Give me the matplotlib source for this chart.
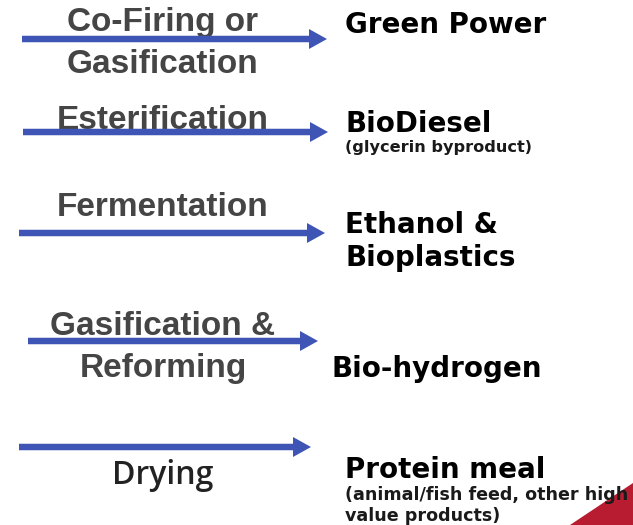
import matplotlib.pyplot as plt
from matplotlib.patches import Polygon

# process steps (grey, over the arrows) and their products (black, right)
process_labels = ["Co-Firing or\nGasification", "Esterification", "Fermentation",
                  "Gasification &\nReforming", "Drying"]
product_labels = ["Green Power", "BioDiesel", "Ethanol &\nBioplastics",
                  "Bio-hydrogen", "Protein meal"]
product_notes = ["", "(glycerin byproduct)", "", "",
                 "(animal/fish feed, other high\nvalue products)"]

# layout, in pixels of the 633x525 picture
arrow_y = [39, 132, 233, 341, 447]
arrow_x0 = [22, 23, 19, 28, 19]
arrow_x1 = [327, 328, 325, 318, 311]
process_base = [31, 129, 216, 335, 484]
product_x = [345, 345, 345, 332, 345]
product_base = [33, 132, 233, 377, 478]
note_base = [0, 152, 0, 0, 500]
note_size = [0, 11.6, 0, 0, 12.6]

blue = "#3f55b5"

fig = plt.figure(figsize=(6.33, 5.25), dpi=100)
ax = fig.add_axes([0, 0, 1, 1])
ax.set_xlim(0, 633)
ax.set_ylim(525, 0)
ax.axis("off")

# red corner
ax.add_patch(Polygon([[570, 525], [633, 483], [633, 525]], closed=True,
                     color="#b81c30", lw=0))

for i in range(len(process_labels)):
    ax.arrow(arrow_x0[i], arrow_y[i], arrow_x1[i] - arrow_x0[i], 0,
             width=6.5, head_width=20, head_length=18,
             length_includes_head=True, color=blue, lw=0, zorder=2)

    lines = process_labels[i].split("\n")
    for j, line in enumerate(lines):
        if process_labels[i] == "Drying":
            ax.text(163, process_base[i] + 42 * j, line, ha="center", va="baseline",
                    fontsize=23, family=["Open Sans", "DejaVu Sans"], fontweight=600,
                    color="#222222", zorder=3)
        else:
            ax.text(163, process_base[i] + 42 * j, line, ha="center", va="baseline",
                    fontsize=24, family="Liberation Sans", fontweight="bold",
                    color="#454545", zorder=1)

    lines = product_labels[i].split("\n")
    for j, line in enumerate(lines):
        ax.text(product_x[i], product_base[i] + 33 * j, line, ha="left", va="baseline",
                fontsize=20, family="DejaVu Sans", fontweight="bold", color="black")

    if product_notes[i]:
        for j, line in enumerate(product_notes[i].split("\n")):
            ax.text(product_x[i], note_base[i] + 21 * j, line, ha="left", va="baseline",
                    fontsize=note_size[i], family="DejaVu Sans", fontweight="bold",
                    color="#1a1a1a", zorder=3)

fig.savefig("out.png", dpi=100)
